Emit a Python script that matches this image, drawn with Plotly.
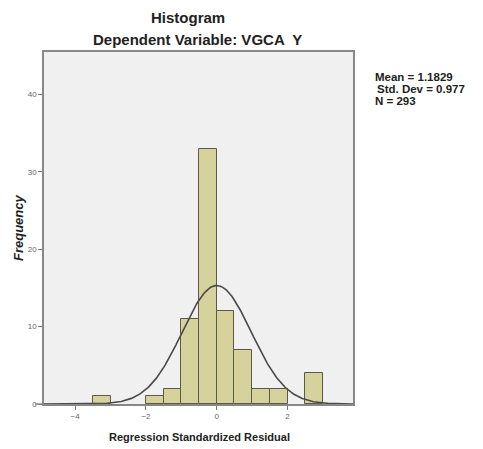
import numpy as np
import plotly.graph_objects as go

# Data
bin_left = [-3.5, -2.0, -1.5, -1.0, -0.5, 0.0, 0.5, 1.0, 1.5, 2.5]
counts = [1, 1, 2, 11, 33, 12, 7, 2, 2, 4]
bin_width = 0.5
curve_mean = 0.0
curve_sd = 0.977
x_ticks = [-4, -2, 0, 2]
y_ticks = [0, 10, 20, 30, 40]
stats_lines = ["Mean = 1.1829", "Std. Dev = 0.977", "N = 293"]

L, R, T, B = 44, 130, 52, 45
W, H = 483, 449
PW, PH = W - L - R, H - T - B

centers = [b + bin_width / 2 for b in bin_left]
n_total = sum(counts)
xs = np.linspace(-4.9, 3.85, 300)
ys = n_total * bin_width * np.exp(-0.5 * ((xs - curve_mean) / curve_sd) ** 2) / (curve_sd * np.sqrt(2 * np.pi))

fig = go.Figure()
fig.add_trace(go.Bar(x=centers, y=counts, width=bin_width,
                     marker=dict(color="#D6D29C", line=dict(color="#5A5A48", width=1)),
                     hoverinfo="x+y"))
fig.add_trace(go.Scatter(x=xs, y=ys, mode="lines",
                         line=dict(color="#4A4A4A", width=1.6), hoverinfo="skip"))

fig.update_layout(
    width=W, height=H,
    margin=dict(l=L, r=R, t=T, b=B, autoexpand=False),
    paper_bgcolor="white", plot_bgcolor="#F0F0F0",
    showlegend=False, bargap=0,
    font=dict(family="Liberation Sans, Arial, sans-serif", color="#222"),
)
fig.update_xaxes(range=[-4.88, 3.85], tickvals=x_ticks, ticks="outside", ticklen=4,
                 tickcolor="#777", tickfont=dict(size=8, color="#666"),
                 showgrid=False, zeroline=False, showline=True, linecolor="#888",
                 mirror=True, linewidth=1.5, automargin=False)
fig.update_yaxes(range=[0, 45.5], tickvals=y_ticks, ticks="outside", ticklen=4,
                 tickcolor="#777", tickfont=dict(size=8, color="#666"),
                 showgrid=False, zeroline=False, showline=True, linecolor="#888",
                 mirror=True, linewidth=1.5, automargin=False)

def px_x(px):
    return (px - L) / PW

def px_y(py):
    return 1 - (py - T) / PH

# small extension of the baseline to the left of the y axis
fig.add_shape(type="line", xref="paper", yref="paper", x0=px_x(35), x1=0, y0=0, y1=0,
              line=dict(color="#888", width=1.5))

# Title lines
fig.add_annotation(xref="paper", yref="paper", x=px_x(188), y=px_y(17), xanchor="center",
                   yanchor="middle", text="<b>Histogram</b>", showarrow=False,
                   font=dict(size=15, color="#222"))
fig.add_annotation(xref="paper", yref="paper", x=px_x(197), y=px_y(40), xanchor="center",
                   yanchor="middle", text="<b>Dependent Variable: VGCA  Y</b>", showarrow=False,
                   font=dict(size=15, color="#222"))
# Axis titles
fig.add_annotation(xref="paper", yref="paper", x=px_x(199), y=px_y(437), xanchor="center",
                   yanchor="middle", text="<b>Regression Standardized Residual</b>",
                   showarrow=False, font=dict(size=11, color="#222"))
fig.add_annotation(xref="paper", yref="paper", x=px_x(18), y=px_y(228), xanchor="center",
                   yanchor="middle", text="<b><i>Frequency</i></b>", textangle=-90,
                   showarrow=False, font=dict(size=13, color="#222"))

for i, line in enumerate(stats_lines):
    fig.add_annotation(xref="paper", yref="paper", x=px_x(373 + (2 if i == 1 else 0)),
                       xanchor="left", y=px_y(77 + 12 * i), yanchor="middle",
                       text="<b>" + line + "</b>", showarrow=False,
                       font=dict(size=11.5, color="#222"), align="left")

fig.write_html("out.html", config={"displayModeBar": False},
               post_script="document.body.style.margin='0';")
